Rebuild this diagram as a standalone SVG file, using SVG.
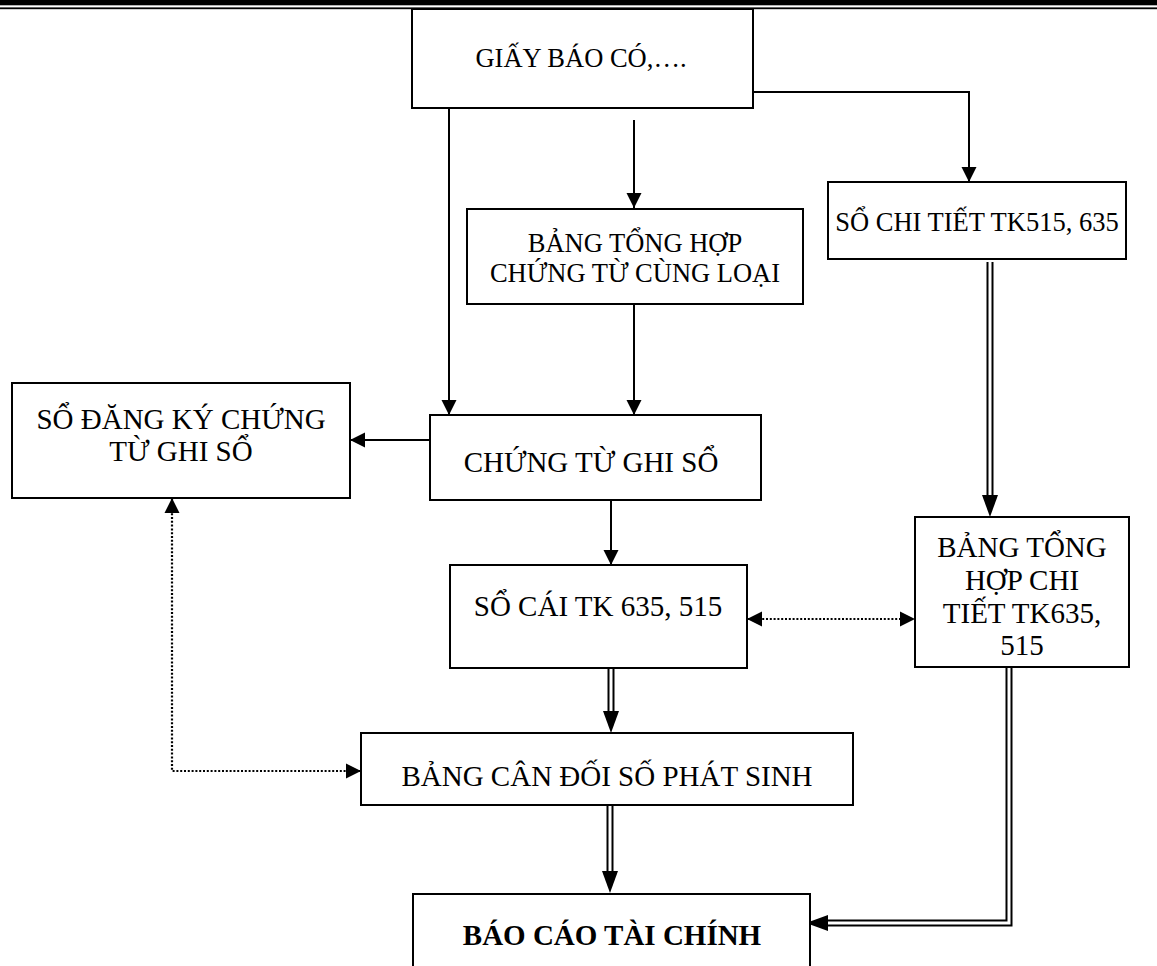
<svg xmlns="http://www.w3.org/2000/svg" width="1157" height="966" viewBox="0 0 1157 966">
  <style>
    .box { fill: #fff; stroke: #000; stroke-width: 2; }
    .t { font-family: "Liberation Serif", "Times New Roman", serif; fill: #000; text-anchor: middle; }
    .s26 { font-size: 26.5px; }
    .s29 { font-size: 29px; }
    .b { font-weight: bold; }
    .line { fill: none; stroke: #000; stroke-width: 2; }
    .dot { fill: none; stroke: #000; stroke-width: 2.2; stroke-dasharray: 2 1.8; }
    .dbl-out { fill: none; stroke: #000; stroke-width: 7; stroke-linejoin: miter; }
    .dbl-in { fill: none; stroke: #fff; stroke-width: 3; stroke-linejoin: miter; }
  </style>
  <defs>
    <marker id="head" markerUnits="userSpaceOnUse" markerWidth="16" markerHeight="16" viewBox="0 -8 16 16" refX="15" refY="0" orient="auto-start-reverse">
      <path d="M0,-7.5 L15,0 L0,7.5 z" fill="#000"/>
    </marker>
    <marker id="dbl-head" markerUnits="userSpaceOnUse" markerWidth="23" markerHeight="18" viewBox="0 -9 23 18" refX="0" refY="0" orient="auto">
      <path d="M0,-8 L22,0 L0,8 z" fill="#000"/>
    </marker>
  </defs>

  <rect width="1157" height="966" fill="#fff"/>

  <!-- page header rules -->
  <rect x="0" y="0" width="1157" height="5.3" fill="#000"/>
  <rect x="0" y="7.4" width="1157" height="1.8" fill="#000"/>

  <g id="connectors">
    <!-- single arrows -->
    <path class="line" d="M449,108 V415" marker-end="url(#head)"/>
    <path class="line" d="M634,120 V208" marker-end="url(#head)"/>
    <path class="line" d="M753,92 H969 V182" marker-end="url(#head)"/>
    <path class="line" d="M634,304 V415" marker-end="url(#head)"/>
    <path class="line" d="M430,440 H350" marker-end="url(#head)"/>
    <path class="line" d="M611,500 V565" marker-end="url(#head)"/>

    <!-- dotted two-way links -->
    <path class="dot" d="M747,619 H915" marker-start="url(#head)" marker-end="url(#head)"/>
    <path class="dot" d="M172,498 V771 H361" marker-start="url(#head)" marker-end="url(#head)"/>

    <!-- double-line arrows -->
    <path class="dbl-out" d="M990,262 V495" marker-end="url(#dbl-head)"/>
    <path class="dbl-in" d="M990,262 V495"/>
    <path class="dbl-out" d="M611,668 V711" marker-end="url(#dbl-head)"/>
    <path class="dbl-in" d="M611,668 V711"/>
    <path class="dbl-out" d="M610,805 V871" marker-end="url(#dbl-head)"/>
    <path class="dbl-in" d="M610,805 V871"/>
    <path class="dbl-out" d="M1009,667 V923 H828" marker-end="url(#dbl-head)"/>
    <path class="dbl-in" d="M1009,667 V923 H828"/>
  </g>

  <g id="giay-bao-co">
    <rect class="box" x="412" y="9" width="341" height="99"/>
    <text class="t s26" x="581" y="67">GIẤY BÁO CÓ,….</text>
  </g>

  <g id="bang-tong-hop-chung-tu">
    <rect class="box" x="467" y="209" width="336" height="95"/>
    <text class="t s26" x="635" y="252">BẢNG TỔNG HỢP</text>
    <text class="t s26" x="635" y="282">CHỨNG TỪ CÙNG LOẠI</text>
  </g>

  <g id="so-chi-tiet">
    <rect class="box" x="828" y="182" width="298" height="77"/>
    <text class="t s26" x="977" y="231">SỔ CHI TIẾT TK515, 635</text>
  </g>

  <g id="so-dang-ky">
    <rect class="box" x="12" y="383" width="338" height="115"/>
    <text class="t s29" x="181" y="429">SỔ ĐĂNG KÝ CHỨNG</text>
    <text class="t s29" x="181" y="461">TỪ GHI SỔ</text>
  </g>

  <g id="chung-tu-ghi-so">
    <rect class="box" x="430" y="415" width="331" height="85"/>
    <text class="t s29" x="591" y="472">CHỨNG TỪ GHI SỔ</text>
  </g>

  <g id="so-cai">
    <rect class="box" x="450" y="565" width="297" height="103"/>
    <text class="t s29" x="598" y="616">SỔ CÁI TK 635, 515</text>
  </g>

  <g id="bang-tong-hop-chi-tiet">
    <rect class="box" x="915" y="517" width="214" height="150"/>
    <text class="t s29" x="1022" y="557">BẢNG TỔNG</text>
    <text class="t s29" x="1022" y="590">HỢP CHI</text>
    <text class="t s29" x="1022" y="623">TIẾT TK635,</text>
    <text class="t s29" x="1022" y="655">515</text>
  </g>

  <g id="bang-can-doi">
    <rect class="box" x="361" y="733" width="492" height="72"/>
    <text class="t s29" x="607" y="786">BẢNG CÂN ĐỐI SỐ PHÁT SINH</text>
  </g>

  <g id="bao-cao-tai-chinh">
    <rect class="box" x="413" y="894" width="397" height="100"/>
    <text class="t s29 b" x="612" y="945">BÁO CÁO TÀI CHÍNH</text>
  </g>
</svg>
